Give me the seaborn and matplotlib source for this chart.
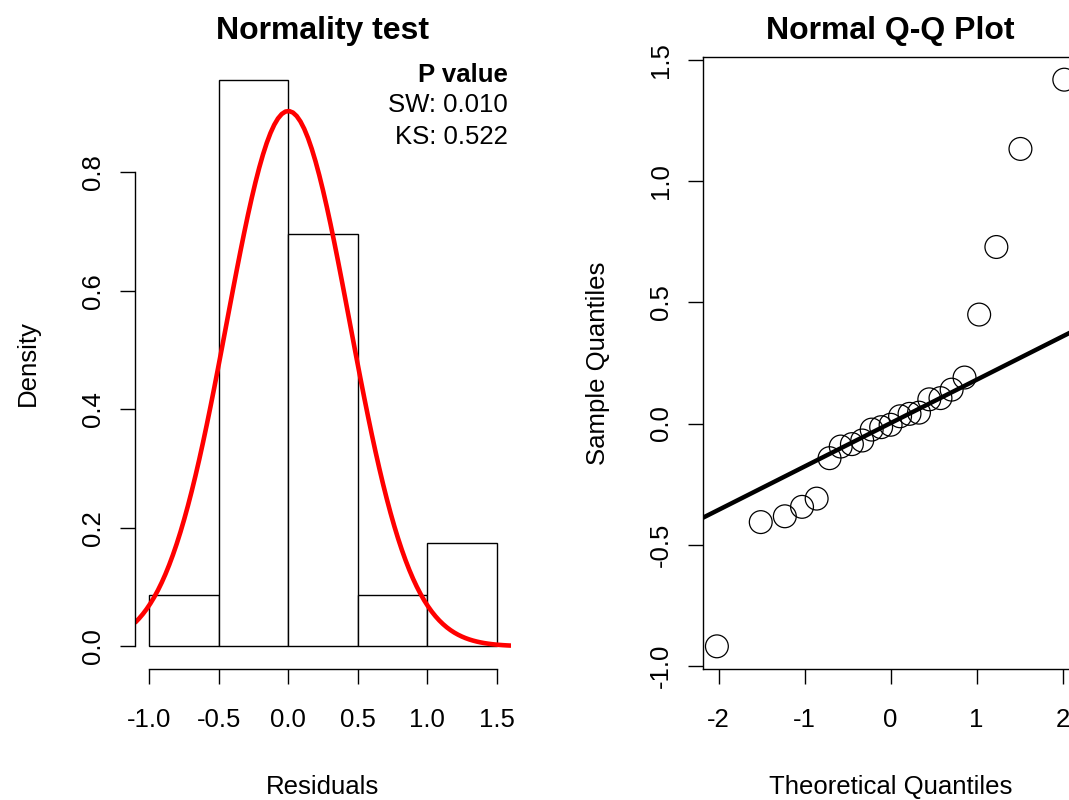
import numpy as np
import matplotlib
matplotlib.use('Agg')
import matplotlib.pyplot as plt
import seaborn as sns
from statistics import NormalDist

# residuals (sorted) and their theoretical normal quantiles
theoretical = [-2.02, -1.51, -1.23, -1.03, -0.86, -0.71, -0.58, -0.45, -0.33, -0.22, -0.11, 0.00,
               0.11, 0.22, 0.33, 0.45, 0.58, 0.71, 0.86, 1.03, 1.23, 1.51, 2.02]
residuals = [-0.92, -0.407, -0.383, -0.344, -0.310, -0.143, -0.095, -0.085, -0.070, -0.025, -0.015, -0.005,
             0.030, 0.040, 0.045, 0.100, 0.105, 0.140, 0.190, 0.450, 0.729, 1.134, 1.42]

hist_breaks = [-1.0, -0.5, 0.0, 0.5, 1.0, 1.5]
curve_mean = 0.0
curve_sd = 0.4415

pvalue_title = 'P value'
pvalue_lines = ['SW: 0.010', 'KS: 0.522']

hist_yticks = [0.0, 0.2, 0.4, 0.6, 0.8]
qq_xticks = [-2, -1, 0, 1, 2]
qq_yticks = [-1.0, -0.5, 0.0, 0.5, 1.0, 1.5]

sns.set_style('white')
plt.rcParams['font.family'] = ['Liberation Sans', 'DejaVu Sans']
plt.rcParams['axes.unicode_minus'] = False
plt.rcParams['text.color'] = 'black'
plt.rcParams['axes.labelcolor'] = 'black'
plt.rcParams['xtick.color'] = 'black'
plt.rcParams['ytick.color'] = 'black'

FS = 18.5
fig = plt.figure(figsize=(10.69, 8.0), dpi=100)
ax1 = fig.add_axes([135.4 / 1069, 131 / 800, 375.2 / 1069, 612 / 800])
ax2 = fig.add_axes([703 / 1069, 131 / 800, 375.2 / 1069, 612 / 800])


def r_range(lo, hi):
    pad = 0.04 * (hi - lo)
    return lo - pad, hi + pad


# ---- histogram + normal curve
sns.histplot(x=residuals, bins=hist_breaks, stat='density', color='white', edgecolor='black',
             linewidth=1.0, alpha=1, ax=ax1)
xlim1 = r_range(hist_breaks[0], hist_breaks[-1])
dens_max = max(p.get_height() for p in ax1.patches)
ax1.set_xlim(xlim1)
ax1.set_ylim(r_range(0, dens_max))

grid = np.linspace(xlim1[0], xlim1[1], 101)
nd = NormalDist(curve_mean, curve_sd)
sns.lineplot(x=grid, y=[nd.pdf(v) for v in grid], color='red', linewidth=3.3, ax=ax1)

for s in ['top', 'right']:
    ax1.spines[s].set_visible(False)
ax1.spines['left'].set_bounds(hist_yticks[0], hist_yticks[-1])
ax1.spines['bottom'].set_bounds(hist_breaks[0], hist_breaks[-1])
ax1.set_xticks(hist_breaks)
ax1.set_xticklabels([f'{v:.1f}' for v in hist_breaks])
ax1.set_yticks(hist_yticks)
ax1.set_yticklabels([f'{v:.1f}' for v in hist_yticks])
ax1.set_title('Normality test', fontsize=23, fontweight='bold', pad=13)
ax1.set_xlabel('Residuals', fontsize=FS, labelpad=31)
ax1.set_ylabel('Density', fontsize=FS, labelpad=30)

ax1.text(0.993, 0.9706, pvalue_title, transform=ax1.transAxes, ha='right', va='center',
         fontsize=FS, fontweight='bold')
for i, t in enumerate(pvalue_lines):
    ax1.text(0.993, 0.9216 - i * 0.0523, t, transform=ax1.transAxes, ha='right', va='center',
             fontsize=FS)

# ---- Q-Q plot
sns.scatterplot(x=theoretical, y=residuals, marker='o', s=270, facecolors='none',
                edgecolor='black', linewidth=0.9, ax=ax2)
ax2.collections[-1].set_facecolor('none')
ax2.set_xlim(r_range(min(theoretical), max(theoretical)))
ax2.set_ylim(r_range(min(residuals), max(residuals)))

q1, q3 = np.percentile(residuals, [25, 75])
z1, z3 = NormalDist().inv_cdf(0.25), NormalDist().inv_cdf(0.75)
slope = (q3 - q1) / (z3 - z1)
ax2.axline((0, q1 - slope * z1), slope=slope, color='black', linewidth=3.2)

for s in ax2.spines.values():
    s.set_visible(True)
    s.set_color('black')
    s.set_linewidth(1.0)
ax2.set_xticks(qq_xticks)
ax2.set_xticklabels([str(v) for v in qq_xticks])
ax2.set_yticks(qq_yticks)
ax2.set_yticklabels([f'{v:.1f}' for v in qq_yticks])
ax2.set_title('Normal Q-Q Plot', fontsize=23, fontweight='bold', pad=13)
ax2.set_xlabel('Theoretical Quantiles', fontsize=FS, labelpad=31)
ax2.set_ylabel('Sample Quantiles', fontsize=FS, labelpad=28)

for ax in (ax1, ax2):
    ax.spines['left'].set_linewidth(1.0)
    ax.spines['bottom'].set_linewidth(1.0)
    ax.spines['left'].set_color('black')
    ax.spines['bottom'].set_color('black')
    ax.tick_params(axis='both', direction='out', length=10.8, width=1.0, color='black',
                   labelsize=FS, left=True, bottom=True)
    ax.tick_params(axis='x', pad=17)
    ax.tick_params(axis='y', pad=11, labelrotation=90)
    for lab in ax.get_yticklabels():
        lab.set_va('center')

fig.savefig('out.png', dpi=100)
